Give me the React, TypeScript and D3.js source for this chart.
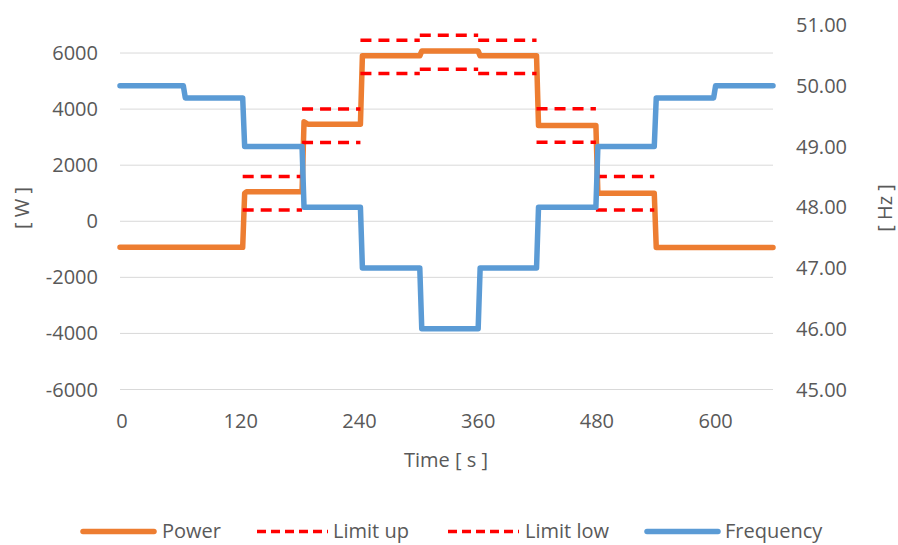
import React from "react";
import * as d3 from "d3";

// ---- data ----
const powerT = [0, 124, 126, 128, 184, 186, 190, 243, 245, 303, 305, 362, 364, 421, 423, 428, 481, 483, 540, 542, 660];
const powerW = [-930, -930, 1000, 1050, 1050, 3550, 3460, 3460, 5900, 5900, 6070, 6070, 5900, 5900, 3420, 3420, 3420, 1000, 1000, -935, -935];

const stepStart = [124, 184, 243, 303, 362, 421, 481];
const stepEnd = [184, 243, 303, 362, 421, 481, 540];
const limitUp = [1600, 4000, 6460, 6630, 6460, 4010, 1600];
const limitLow = [400, 2810, 5270, 5420, 5270, 2820, 400];

const freqT = [0, 64, 66, 124, 126, 184, 186, 243, 245, 303, 305, 362, 364, 421, 423, 481, 483, 540, 542, 600, 602, 660];
const freqHz = [50, 50, 49.8, 49.8, 49.0, 49.0, 48.0, 48.0, 47.0, 47.0, 46.0, 46.0, 47.0, 47.0, 48.0, 48.0, 49.0, 49.0, 49.8, 49.8, 50.0, 50.0];

const xTicks = [0, 120, 240, 360, 480, 600];
const wTicks = [-6000, -4000, -2000, 0, 2000, 4000, 6000];
const hzTicks = [45, 46, 47, 48, 49, 50, 51];

const legendItems = [
  { label: "Power", color: "#ED7D31", dash: null, w: 5.5 },
  { label: "Limit up", color: "#FF0000", dash: "9 5", w: 3.5 },
  { label: "Limit low", color: "#FF0000", dash: "9 5", w: 3.5 },
  { label: "Frequency", color: "#5B9BD5", dash: null, w: 5.5 },
];

export default function App() {
  const W = 898, H = 545;
  const x = d3.scaleLinear().domain([0, 660]).range([120, 773]);
  const yW = d3.scaleLinear().domain([-6000, 7000]).range([389.5, 25]);
  const yHz = d3.scaleLinear().domain([45, 51]).range([389.5, 25]);
  const font = "'Open Sans', sans-serif";
  const txt = "#595959";

  const powerPts = powerT.map((t, i) => [t, powerW[i]] as [number, number]);
  const freqPts = freqT.map((t, i) => [t, freqHz[i]] as [number, number]);
  const linePow = d3.line<[number, number]>().x(d => x(d[0])).y(d => yW(d[1]));
  const lineHz = d3.line<[number, number]>().x(d => x(d[0])).y(d => yHz(d[1]));

  const legX = [83, 257, 448, 647];
  const legTextX = [162, 333, 525, 725];

  return (
    <svg width={W} height={H} style={{ position: "absolute", left: 0, top: 0, background: "#fff" }} fontFamily={font}>
      {wTicks.map(v => (
        <line key={"g" + v} x1={120} x2={773} y1={yW(v)} y2={yW(v)} stroke="#D9D9D9" strokeWidth={1} />
      ))}
      {wTicks.map(v => (
        <text key={"l" + v} x={98} y={yW(v) + 7} textAnchor="end" fontSize={20} fill={txt}>{v}</text>
      ))}
      {hzTicks.map(v => (
        <text key={"r" + v} x={796} y={yHz(v) + 7} textAnchor="start" fontSize={20} fill={txt}>{v.toFixed(2)}</text>
      ))}
      {xTicks.map(v => (
        <text key={"x" + v} x={x(v) + 2} y={428} textAnchor="middle" fontSize={20} fill={txt}>{v}</text>
      ))}
      <text x={446} y={467} textAnchor="middle" fontSize={20} fill={txt}>Time [ s ]</text>
      <text transform={`translate(29,208) rotate(-90)`} textAnchor="middle" fontSize={20} fill={txt}>[ W ]</text>
      <text transform={`translate(892,208) rotate(-90)`} textAnchor="middle" fontSize={20} fill={txt}>[ Hz ]</text>

      <path d={linePow(powerPts) || ""} fill="none" stroke="#ED7D31" strokeWidth={5.5} strokeLinejoin="round" strokeLinecap="round" />
      {stepStart.map((s, i) => (
        <g key={"lim" + i}>
          <line x1={x(s)} x2={x(stepEnd[i])} y1={yW(limitUp[i])} y2={yW(limitUp[i])} stroke="#FF0000" strokeWidth={3.5} strokeDasharray="11 7" />
          <line x1={x(s)} x2={x(stepEnd[i])} y1={yW(limitLow[i])} y2={yW(limitLow[i])} stroke="#FF0000" strokeWidth={3.5} strokeDasharray="11 7" />
        </g>
      ))}
      <path d={lineHz(freqPts) || ""} fill="none" stroke="#5B9BD5" strokeWidth={5.5} strokeLinejoin="round" strokeLinecap="round" />

      {legendItems.map((it, i) => (
        <g key={"leg" + i}>
          <line x1={legX[i]} x2={legX[i] + 71} y1={531.5} y2={531.5} stroke={it.color} strokeWidth={it.w}
            strokeDasharray={it.dash || undefined} strokeLinecap={it.dash ? "butt" : "round"} />
          <text x={legTextX[i]} y={538} fontSize={20} fill={txt}>{it.label}</text>
        </g>
      ))}
    </svg>
  );
}
